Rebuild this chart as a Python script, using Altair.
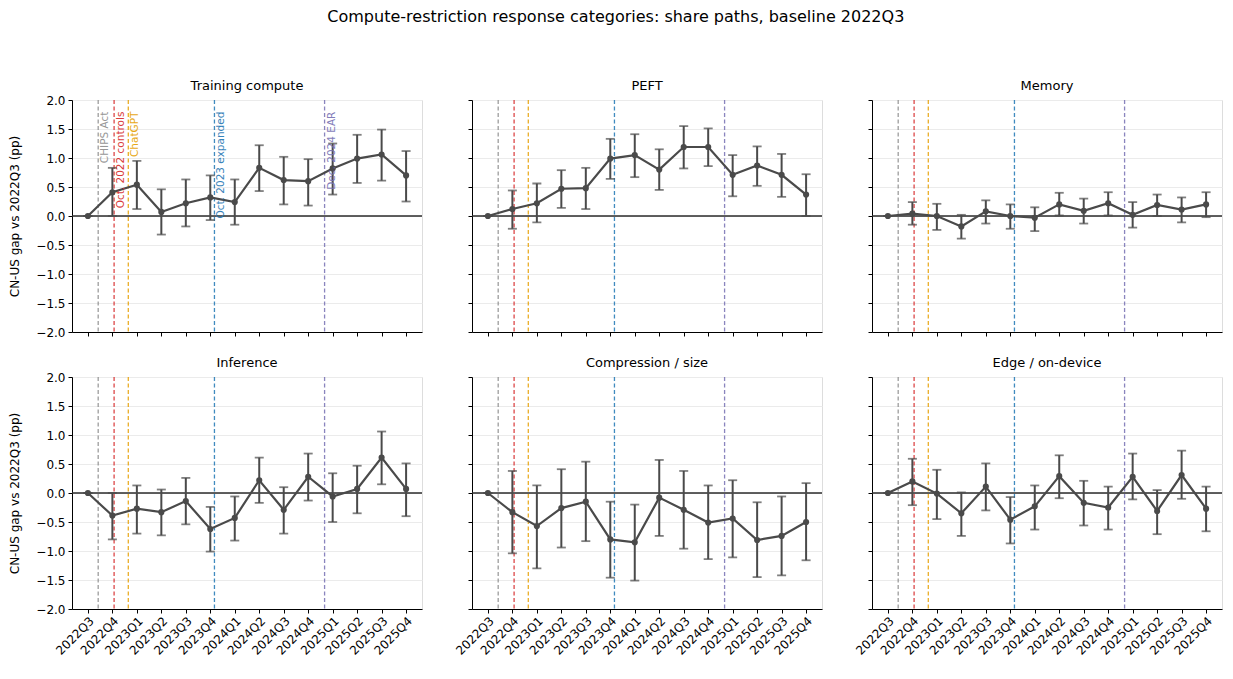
import json
import altair as alt
import pandas as pd

quarters = ["2022Q3", "2022Q4", "2023Q1", "2023Q2", "2023Q3", "2023Q4", "2024Q1",
            "2024Q2", "2024Q3", "2024Q4", "2025Q1", "2025Q2", "2025Q3", "2025Q4"]

categories = ["Training compute", "PEFT", "Memory",
              "Inference", "Compression / size", "Edge / on-device"]

training_mean = [0.0, 0.41, 0.54, 0.07, 0.22, 0.32, 0.24, 0.83, 0.62, 0.60, 0.82, 0.99, 1.06, 0.70]
training_lo = [0.0, 0.00, 0.12, -0.32, -0.18, -0.07, -0.15, 0.43, 0.20, 0.18, 0.37, 0.57, 0.61, 0.25]
training_hi = [0.0, 0.83, 0.95, 0.46, 0.63, 0.70, 0.63, 1.22, 1.02, 0.98, 1.25, 1.40, 1.49, 1.12]

peft_mean = [0.0, 0.12, 0.22, 0.47, 0.48, 0.99, 1.05, 0.80, 1.19, 1.19, 0.71, 0.87, 0.71, 0.37]
peft_lo = [0.0, -0.22, -0.11, 0.14, 0.12, 0.64, 0.67, 0.45, 0.82, 0.86, 0.34, 0.52, 0.33, 0.00]
peft_hi = [0.0, 0.44, 0.56, 0.79, 0.83, 1.33, 1.41, 1.15, 1.55, 1.51, 1.05, 1.20, 1.07, 0.72]

memory_mean = [0.0, 0.04, 0.00, -0.18, 0.08, 0.00, -0.03, 0.20, 0.09, 0.22, 0.02, 0.19, 0.11, 0.20]
memory_lo = [0.0, -0.15, -0.24, -0.39, -0.13, -0.22, -0.26, 0.01, -0.13, 0.01, -0.20, 0.00, -0.11, -0.02]
memory_hi = [0.0, 0.24, 0.21, 0.02, 0.27, 0.20, 0.15, 0.40, 0.30, 0.41, 0.24, 0.37, 0.32, 0.41]

inference_mean = [0.0, -0.39, -0.27, -0.33, -0.14, -0.62, -0.43, 0.22, -0.29, 0.28, -0.06, 0.07, 0.61, 0.07]
inference_lo = [0.0, -0.80, -0.70, -0.73, -0.54, -1.01, -0.82, -0.17, -0.70, -0.13, -0.50, -0.35, 0.15, -0.40]
inference_hi = [0.0, 0.00, 0.13, 0.06, 0.26, -0.24, -0.06, 0.61, 0.10, 0.68, 0.34, 0.47, 1.06, 0.51]

compression_mean = [0.0, -0.33, -0.57, -0.26, -0.15, -0.80, -0.85, -0.08, -0.29, -0.51, -0.44, -0.81, -0.74, -0.50]
compression_lo = [0.0, -1.04, -1.30, -0.94, -0.83, -1.46, -1.51, -0.74, -0.96, -1.14, -1.11, -1.45, -1.42, -1.16]
compression_hi = [0.0, 0.38, 0.13, 0.41, 0.54, -0.15, -0.20, 0.57, 0.38, 0.13, 0.22, -0.16, -0.06, 0.17]

edge_mean = [0.0, 0.20, -0.01, -0.35, 0.11, -0.46, -0.23, 0.29, -0.17, -0.25, 0.28, -0.31, 0.31, -0.27]
edge_lo = [0.0, -0.21, -0.45, -0.74, -0.30, -0.87, -0.63, -0.09, -0.56, -0.63, -0.11, -0.71, -0.10, -0.66]
edge_hi = [0.0, 0.59, 0.40, 0.01, 0.51, -0.07, 0.13, 0.65, 0.21, 0.11, 0.68, 0.05, 0.73, 0.11]

series = {
    "Training compute": (training_mean, training_lo, training_hi),
    "PEFT": (peft_mean, peft_lo, peft_hi),
    "Memory": (memory_mean, memory_lo, memory_hi),
    "Inference": (inference_mean, inference_lo, inference_hi),
    "Compression / size": (compression_mean, compression_lo, compression_hi),
    "Edge / on-device": (edge_mean, edge_lo, edge_hi),
}

y_ticks = [-2.0, -1.5, -1.0, -0.5, 0.0, 0.5, 1.0, 1.5, 2.0]

event_names = ["CHIPS Act", "Oct. 2022 controls", "ChatGPT", "Oct. 2023 expanded", "Dec. 2024 EAR"]
event_pos = [0.42, 1.07, 1.65, 5.17, 9.67]
event_colors = ["#8c8c8c", "#d62728", "#e69f00", "#1f77b4", "#7570b3"]

FONT = "DejaVu Sans"
W, H = 350, 232
X_DOMAIN = [-0.65, 13.65]
label_expr = json.dumps(quarters) + "[round(datum.value)]"

events_df = pd.DataFrame({"name": event_names, "pos": event_pos, "color": event_colors,
                          "ytext": [1.8] * len(event_names)})


def panel(cat, row, col):
    mean, lo, hi = series[cat]
    df = pd.DataFrame({"i": list(range(len(quarters))), "q": quarters,
                       "mean": mean, "lo": lo, "hi": hi})
    show_x_labels = row == 1
    show_y_labels = col == 0
    x_axis = alt.Axis(
        values=list(range(len(quarters))),
        labels=show_x_labels,
        labelExpr=label_expr,
        labelAngle=-45, labelAlign="right", labelBaseline="top",
        labelFontSize=12, labelColor="#000", labelPadding=2, labelOverlap=False,
        grid=False, title=None, tickSize=4, tickColor="#000",
        domainColor="#000", domainWidth=1,
    )
    y_axis = alt.Axis(
        values=y_ticks,
        format=".1f", labels=show_y_labels, labelOverlap=False,
        labelFontSize=12, labelColor="#000", labelPadding=3,
        title="CN-US gap vs 2022Q3 (pp)" if show_y_labels else None,
        titleFontSize=12, titleFontWeight="normal", titleColor="#000", titlePadding=14,
        grid=True, gridColor="#ebebeb", gridWidth=1,
        tickSize=4, tickColor="#000", domainColor="#000", domainWidth=1,
    )
    xs = alt.Scale(domain=X_DOMAIN, nice=False, zero=False)
    ys = alt.Scale(domain=[-2, 2], nice=False)

    def X(f):
        return alt.X(f, type="quantitative", scale=xs, axis=x_axis)

    def Y(f):
        return alt.Y(f, type="quantitative", scale=ys, axis=y_axis)

    base = alt.Chart(df)
    zero = alt.Chart(pd.DataFrame({"z": [0.0]})).mark_rule(color="#2b2b2b", strokeWidth=1.5).encode(
        y=Y("z")
    )
    ev = alt.Chart(events_df).mark_rule(strokeDash=[4, 2.5], strokeWidth=1.3, opacity=0.85).encode(
        x=X("pos"),
        color=alt.Color("color:N", scale=None, legend=None),
    )
    err = base.mark_rule(color="#4a4a4a", strokeWidth=2).encode(
        x=X("i"), y=Y("lo"), y2="hi:Q"
    )
    cap_lo = base.mark_tick(orient="horizontal", size=9, thickness=1.8, color="#4a4a4a").encode(
        x=X("i"), y=Y("lo")
    )
    cap_hi = base.mark_tick(orient="horizontal", size=9, thickness=1.8, color="#4a4a4a").encode(
        x=X("i"), y=Y("hi")
    )
    line = base.mark_line(color="#4a4a4a", strokeWidth=2.2).encode(x=X("i"), y=Y("mean"))
    pts = base.mark_circle(color="#4a4a4a", size=38, opacity=1).encode(x=X("i"), y=Y("mean"))
    title_txt = alt.Chart(pd.DataFrame({"t": [cat]})).mark_text(
        fontSize=13, font=FONT, color="#000", baseline="middle", align="center"
    ).encode(x=alt.value(W / 2), y=alt.value(-14), text="t:N")
    layers = [zero, ev, err, cap_lo, cap_hi, line, pts, title_txt]
    if row == 0 and col == 0:
        txt = alt.Chart(events_df).mark_text(
            angle=270, align="right", baseline="top", dy=2, fontSize=10.5, font=FONT, opacity=0.9
        ).encode(
            x=X("pos"), y=Y("ytext"),
            text="name:N", color=alt.Color("color:N", scale=None, legend=None),
        )
        layers.append(txt)
    return alt.layer(*layers).properties(width=W, height=H)


panels = [panel(categories[r * 3 + c], r, c) for r in range(2) for c in range(3)]

chart = alt.concat(*panels, columns=3, spacing={"row": 45, "column": 50}, bounds="flush").properties(
    title=alt.TitleParams(
        "Compute-restriction response categories: share paths, baseline 2022Q3",
        fontSize=16, fontWeight="normal", font=FONT, color="#000", anchor="middle", offset=55,
    ),
    padding={"left": 0, "top": 0, "right": 0, "bottom": 0},
).configure_view(strokeWidth=0).configure_axis(labelFont=FONT, titleFont=FONT).configure(
    font=FONT, background="white"
)

chart.save("out.html", embed_options={"renderer": "svg", "actions": False})
